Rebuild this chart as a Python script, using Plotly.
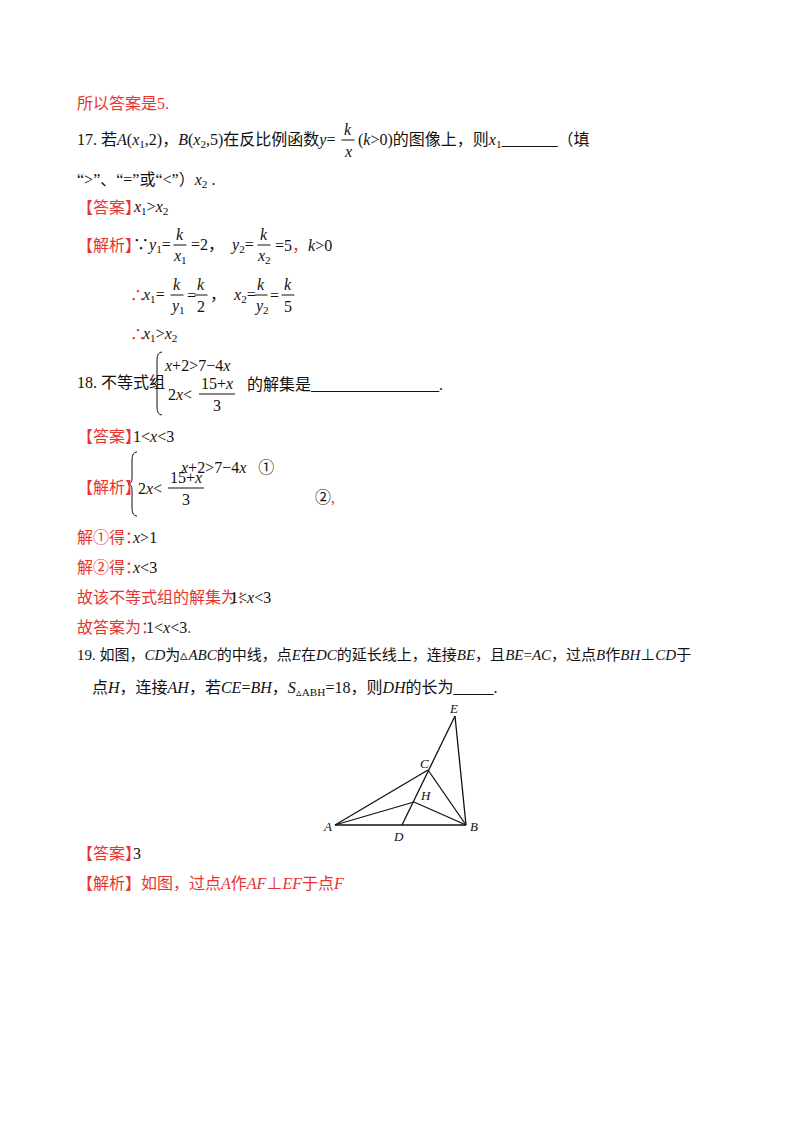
import plotly.graph_objects as go

# geometry figure points (page pixel space)
pt_names = ["A", "B", "C", "D", "E", "H"]
pt_x = [335, 466, 428, 402, 455, 414]
pt_y = [825, 825, 770, 825, 716, 802]
segments = [("A", "B"), ("A", "C"), ("C", "B"), ("D", "E"), ("E", "B"), ("A", "H"), ("H", "B")]
label_x = [327, 474, 424, 398, 453, 425]
label_y = [826, 826, 763, 836, 708, 795]

RED = "#e8332f"
BLK = "#111111"
FONT = "Liberation Serif, Noto Sans CJK SC"
FS = 16
OFF = 8  # browser body margin

fig = go.Figure()
P = {n: (x, y) for n, x, y in zip(pt_names, pt_x, pt_y)}
for a, b in segments:
    fig.add_trace(go.Scatter(x=[P[a][0], P[b][0]], y=[P[a][1], P[b][1]], mode="lines",
                             line=dict(color=BLK, width=1.3), hoverinfo="skip", showlegend=False))
ann = []
shapes = []

def T(x, y, s, color=BLK, size=FS, anchor="left"):
    ann.append(dict(x=x, y=y, text=s, showarrow=False, xanchor=anchor, yanchor="middle",
                    font=dict(family=FONT, size=size, color=color), xref="x", yref="y"))

def F(cx, y, num, den, w=None, color=BLK):
    if w is None:
        w = 13
    T(cx, y - 11, num, color, anchor="center")
    T(cx, y + 11, den, color, anchor="center")
    shapes.append(dict(type="line", x0=cx - w / 2, x1=cx + w / 2, y0=y, y1=y, xref="x", yref="y",
                       line=dict(color=color, width=1)))

def BR(x, top, bot):
    m = (top + bot) / 2
    p = (f"M {x+5} {top} Q {x} {top} {x} {top+8} L {x} {m-6} Q {x} {m} {x-4} {m} "
         f"Q {x} {m} {x} {m+6} L {x} {bot-8} Q {x} {bot} {x+5} {bot}")
    shapes.append(dict(type="path", path=p, xref="x", yref="y", line=dict(color=BLK, width=1)))

for n, lx, ly in zip(pt_names, label_x, label_y):
    T(lx, ly, "<i>%s</i>" % n, size=13, anchor="center")

T(75, 103, "所以答案是5.", RED)
T(75, 140, "17. 若<i>A</i>(<i>x</i><sub>1</sub>,2)，<i>B</i>(<i>x</i><sub>2</sub>,5)在反比例函数<i>y</i>=")
F(348, 140, "<i>k</i>", "<i>x</i>")
T(356, 140, "(<i>k</i>>0)的图像上，则<i>x</i><sub>1</sub>_______（填")
T(75, 180, "“>”、“=”或“<”）<i>x</i><sub>2</sub> .")
T(75, 207, "【答案】", RED)
T(131, 207, "<i>x</i><sub>1</sub>><i>x</i><sub>2</sub>")
T(75, 245, "【解析】", RED)
T(131, 245, "∵<i>y</i><sub>1</sub>=")
F(180, 245, "<i>k</i>", "<i>x</i><sub>1</sub>")
T(189, 245, "=2，  <i>y</i><sub>2</sub>=")
F(264, 245, "<i>k</i>", "<i>x</i><sub>2</sub>")
T(273, 245, "=5<span style='color:%s'>，</span><i>k</i>>0" % RED)
T(128, 295, "∴", RED)
T(140, 295, "<i>x</i><sub>1</sub>=")
F(177, 295, "<i>k</i>", "<i>y</i><sub>1</sub>")
T(185, 295, "=")
F(201, 295, "<i>k</i>", "2")
T(208, 295, "，  <i>x</i><sub>2</sub>=")
F(261, 295, "<i>k</i>", "<i>y</i><sub>2</sub>")
T(268, 295, "=")
F(288, 295, "<i>k</i>", "5")
T(128, 334, "∴", RED)
T(140, 334, "<i>x</i><sub>1</sub>><i>x</i><sub>2</sub>")

T(75, 382, "18. 不等式组")
BR(157, 352, 415)
T(162, 365, "<i>x</i>+2>7−4<i>x</i>")
T(166, 394, "2<i>x</i><")
F(217, 394, "15+<i>x</i>", "3", w=36)
T(245, 384, "的解集是________________.")
T(75, 436, "【答案】", RED)
T(131, 436, "1<<i>x</i><3")
T(75, 487, "【解析】", RED)
BR(132, 452, 516)
T(178, 467, "<i>x</i>+2>7−4<i>x</i>   ①")
T(136, 488, "2<i>x</i><")
F(186, 488, "15+<i>x</i>", "3", w=36)
T(313, 497, "②<span style='color:%s'>,</span>" % RED)
T(75, 537, "解①得：", RED)
T(130, 537, "<i>x</i>>1")
T(75, 567, "解②得：", RED)
T(130, 567, "<i>x</i><3")
T(75, 597, "故该不等式组的解集为：", RED)
T(228, 597, "1<<i>x</i><3")
T(75, 627, "故答案为：", RED)
T(144, 627, "1<<i>x</i><3<span style='color:%s'>.</span>" % RED)

T(75, 655, "19. 如图，<i>CD</i>为▵<i>ABC</i>的中线，点<i>E</i>在<i>DC</i>的延长线上，连接<i>BE</i>，且<i>BE</i>=<i>AC</i>，过点<i>B</i>作<i>BH</i>⊥<i>CD</i>于", size=15)
T(90, 688, "点<i>H</i>，连接<i>AH</i>，若<i>CE</i>=<i>BH</i>，<i>S</i><sub>▵ABH</sub>=18，则<i>DH</i>的长为_____.")
T(75, 853, "【答案】", RED)
T(131, 853, "3")
T(75, 883, "【解析】如图，过点<i>A</i>作<i>AF</i>⊥<i>EF</i>于点<i>F</i>", RED)

fig.update_layout(width=800, height=1132, margin=dict(l=0, r=0, t=0, b=0),
                  paper_bgcolor="white", plot_bgcolor="white",
                  xaxis=dict(range=[OFF, 800 + OFF], visible=False, fixedrange=True),
                  yaxis=dict(range=[1132 + OFF, OFF], visible=False, fixedrange=True),
                  annotations=ann, shapes=shapes)
fig.write_html("out.html")
